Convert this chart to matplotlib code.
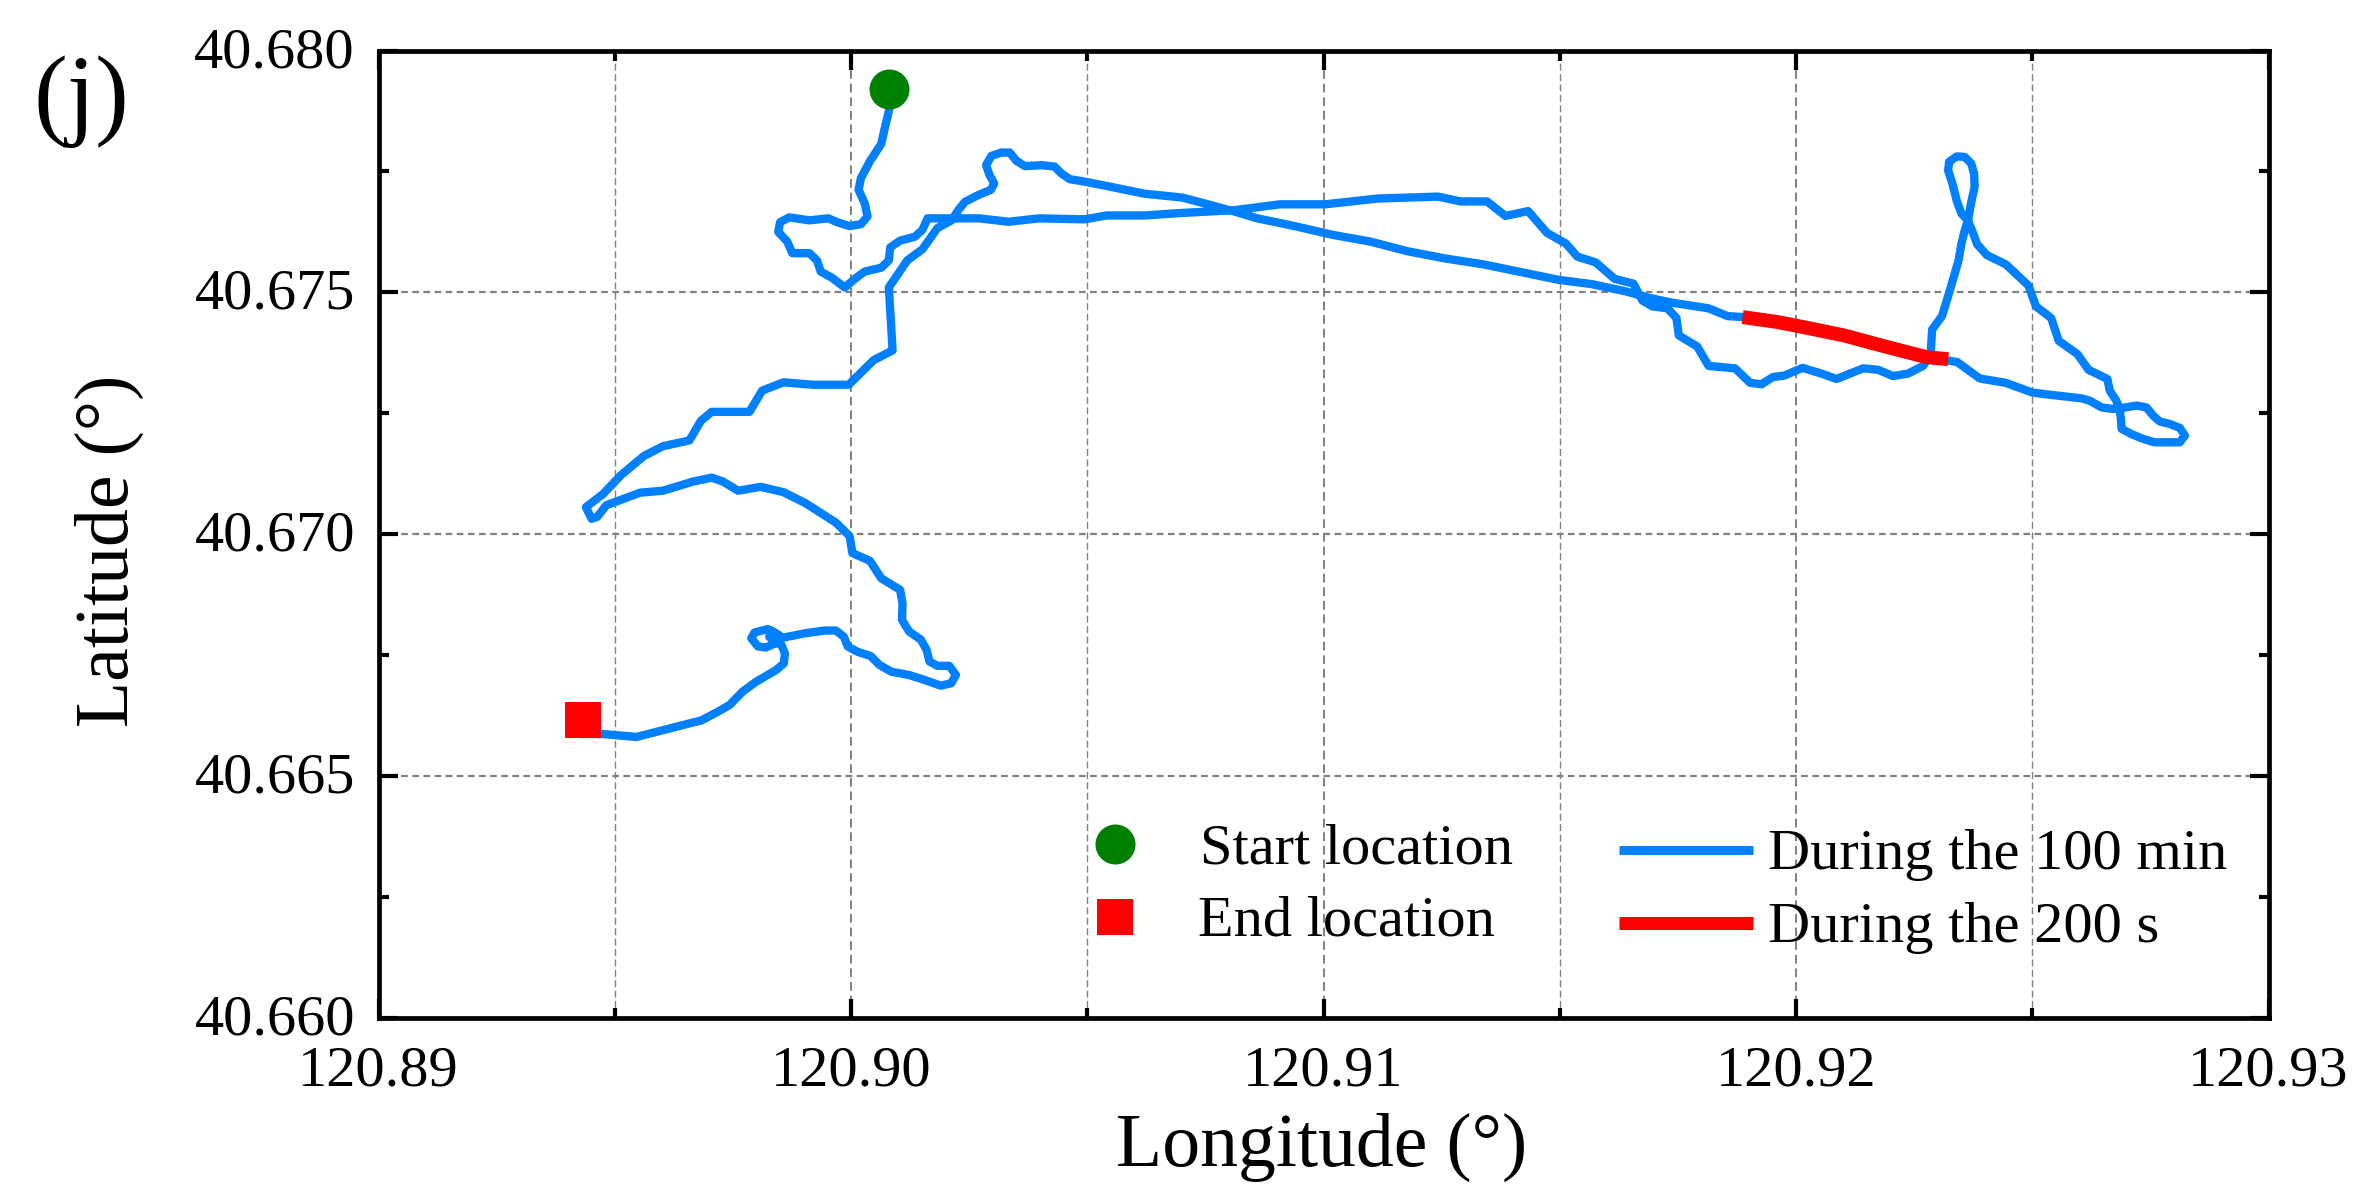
import matplotlib
matplotlib.use('Agg')
import matplotlib.pyplot as plt
from matplotlib.lines import Line2D
from matplotlib.ticker import MultipleLocator, FormatStrFormatter
from matplotlib.transforms import ScaledTranslation

plt.rcParams['font.family'] = ['Liberation Serif', 'DejaVu Serif']

# track during the 100 min
track_lon = [120.90081, 120.90081, 120.90072, 120.90064, 120.90040, 120.90021, 120.90016, 120.90029, 120.90035, 120.90021,
             120.89997, 120.89971, 120.89952, 120.89912, 120.89869, 120.89850, 120.89846, 120.89865, 120.89876, 120.89912,
             120.89928, 120.89936, 120.89960, 120.89987, 120.90008, 120.90029, 120.90064, 120.90080, 120.90083, 120.90104,
             120.90135, 120.90151, 120.90162, 120.90207, 120.90271, 120.90334, 120.90398, 120.90494, 120.90541, 120.90621,
             120.90697, 120.90812, 120.90908, 120.91003, 120.91115, 120.91242, 120.91290, 120.91346, 120.91385, 120.91433,
             120.91473, 120.91513, 120.91537, 120.91576, 120.91616, 120.91656, 120.91675, 120.91696, 120.91728, 120.91747,
             120.91752, 120.91791, 120.91815, 120.91871, 120.91903, 120.91927, 120.91951, 120.91975, 120.92014, 120.92054,
             120.92086, 120.92142, 120.92174, 120.92205, 120.92237, 120.92269, 120.92285, 120.92288, 120.92309, 120.92325,
             120.92344, 120.92350, 120.92357, 120.92364, 120.92371, 120.92378, 120.92377, 120.92371, 120.92357, 120.92340,
             120.92324, 120.92322, 120.92331, 120.92340, 120.92350, 120.92364, 120.92378, 120.92383, 120.92404, 120.92444,
             120.92492, 120.92508, 120.92540, 120.92556, 120.92596, 120.92619, 120.92659, 120.92664, 120.92678, 120.92685,
             120.92688, 120.92689, 120.92710, 120.92735, 120.92759, 120.92788, 120.92812, 120.92823, 120.92812, 120.92791,
             120.92770, 120.92756, 120.92742, 120.92721, 120.92696, 120.92671, 120.92647, 120.92622, 120.92604, 120.92532,
             120.92500, 120.92444, 120.92389, 120.92341, 120.92317, 120.92277, 120.92213, 120.92166, 120.92102, 120.92022,
             120.91959, 120.91887, 120.91855, 120.91815, 120.91736, 120.91688, 120.91640, 120.91568, 120.91497, 120.91417,
             120.91338, 120.91258, 120.91178, 120.91099, 120.91019, 120.90939, 120.90860, 120.90812, 120.90748, 120.90701,
             120.90621, 120.90541, 120.90494, 120.90463, 120.90445, 120.90431, 120.90403, 120.90368, 120.90350, 120.90336,
             120.90318, 120.90297, 120.90286, 120.90293, 120.90303, 120.90296, 120.90269, 120.90241, 120.90227, 120.90213,
             120.90183, 120.90151, 120.90119, 120.90080, 120.90084, 120.90088, 120.90048, 120.89995, 120.89920, 120.89857,
             120.89812, 120.89785, 120.89705, 120.89682, 120.89658, 120.89602, 120.89562, 120.89514, 120.89475, 120.89439,
             120.89451, 120.89463, 120.89482, 120.89554, 120.89602, 120.89666, 120.89705, 120.89729, 120.89761, 120.89809,
             120.89857, 120.89904, 120.89968, 120.89997, 120.90003, 120.90040, 120.90064, 120.90096, 120.90104, 120.90109,
             120.90108, 120.90123, 120.90148, 120.90160, 120.90166, 120.90183, 120.90208, 120.90222, 120.90212, 120.90190,
             120.90155, 120.90123, 120.90085, 120.90060, 120.90042, 120.90014, 120.89993, 120.89985, 120.89968, 120.89944,
             120.89901, 120.89855, 120.89841, 120.89824, 120.89796, 120.89789, 120.89803, 120.89820, 120.89841, 120.89846,
             120.89831, 120.89827, 120.89838, 120.89853, 120.89860, 120.89858, 120.89841, 120.89799, 120.89771, 120.89743,
             120.89718, 120.89683, 120.89666, 120.89602, 120.89546, 120.89475, 120.89432]
track_lat = [40.67920, 40.67878, 40.67842, 40.67807, 40.67771, 40.67736, 40.67712, 40.67684, 40.67657, 40.67641,
             40.67637, 40.67645, 40.67653, 40.67649, 40.67655, 40.67645, 40.67625, 40.67605, 40.67581, 40.67581,
             40.67566, 40.67543, 40.67530, 40.67510, 40.67528, 40.67543, 40.67551, 40.67566, 40.67593, 40.67607,
             40.67615, 40.67629, 40.67653, 40.67653, 40.67653, 40.67646, 40.67653, 40.67651, 40.67659, 40.67659,
             40.67664, 40.67670, 40.67682, 40.67682, 40.67694, 40.67698, 40.67688, 40.67688, 40.67658, 40.67668,
             40.67623, 40.67601, 40.67574, 40.67562, 40.67528, 40.67518, 40.67483, 40.67471, 40.67467, 40.67447,
             40.67411, 40.67388, 40.67348, 40.67343, 40.67313, 40.67310, 40.67325, 40.67328, 40.67344, 40.67332,
             40.67321, 40.67343, 40.67340, 40.67327, 40.67332, 40.67348, 40.67372, 40.67423, 40.67451, 40.67502,
             40.67566, 40.67600, 40.67628, 40.67649, 40.67687, 40.67718, 40.67745, 40.67766, 40.67780, 40.67781,
             40.67770, 40.67752, 40.67725, 40.67690, 40.67663, 40.67649, 40.67614, 40.67600, 40.67577, 40.67558,
             40.67514, 40.67471, 40.67447, 40.67400, 40.67372, 40.67340, 40.67321, 40.67297, 40.67276, 40.67259,
             40.67235, 40.67218, 40.67207, 40.67197, 40.67190, 40.67190, 40.67190, 40.67204, 40.67220, 40.67228,
             40.67233, 40.67245, 40.67262, 40.67266, 40.67262, 40.67259, 40.67262, 40.67276, 40.67281, 40.67289,
             40.67293, 40.67313, 40.67322, 40.67356, 40.67360, 40.67364, 40.67382, 40.67394, 40.67411, 40.67427,
             40.67439, 40.67449, 40.67451, 40.67467, 40.67479, 40.67489, 40.67502, 40.67517, 40.67526, 40.67542,
             40.67558, 40.67570, 40.67585, 40.67605, 40.67619, 40.67637, 40.67653, 40.67667, 40.67684, 40.67696,
             40.67704, 40.67720, 40.67729, 40.67734, 40.67746, 40.67760, 40.67763, 40.67761, 40.67772, 40.67789,
             40.67789, 40.67782, 40.67763, 40.67743, 40.67725, 40.67712, 40.67701, 40.67687, 40.67670, 40.67649,
             40.67633, 40.67589, 40.67566, 40.67510, 40.67447, 40.67380, 40.67360, 40.67309, 40.67309, 40.67314,
             40.67297, 40.67253, 40.67253, 40.67234, 40.67194, 40.67182, 40.67162, 40.67123, 40.67083, 40.67056,
             40.67032, 40.67036, 40.67060, 40.67086, 40.67090, 40.67109, 40.67117, 40.67109, 40.67090, 40.67098,
             40.67087, 40.67064, 40.67024, 40.66996, 40.66961, 40.66945, 40.66909, 40.66890, 40.66885, 40.66857,
             40.66823, 40.66799, 40.66782, 40.66761, 40.66737, 40.66728, 40.66728, 40.66709, 40.66692, 40.66687,
             40.66699, 40.66709, 40.66716, 40.66730, 40.66748, 40.66757, 40.66768, 40.66788, 40.66801, 40.66801,
             40.66795, 40.66786, 40.66795, 40.66804, 40.66797, 40.66785, 40.66768, 40.66766, 40.66775, 40.66792,
             40.66801, 40.66788, 40.66778, 40.66771, 40.66754, 40.66733, 40.66719, 40.66695, 40.66675, 40.66647,
             40.66633, 40.66615, 40.66611, 40.66595, 40.66581, 40.66587, 40.66587]

# part of the track during the 200 s
red_lon = [120.91887, 120.91959, 120.92022, 120.92102, 120.92166, 120.92213, 120.92277, 120.92322]
red_lat = [40.67449, 40.67439, 40.67427, 40.67411, 40.67394, 40.67382, 40.67366, 40.67362]

start_lon, start_lat = [120.90081], [40.67920]
end_lon, end_lat = [120.89432], [40.66616]

marker_labels = ['Start location', 'End location']
line_labels = ['During the 100 min', 'During the 200 s']

BLUE = '#0080FF'
RED = '#FF0000'
GREEN = '#008000'
W, H = 2361, 1200


def px(x, y):
    return x / W, 1 - y / H


fig = plt.figure(figsize=(23.61, 12), dpi=100)
ax = fig.add_axes([378.5 / W, 1 - 1018 / H, 1890 / W, 967.5 / H])

ax.plot(track_lon, track_lat, color=BLUE, lw=6, solid_joinstyle='round', zorder=3)
ax.plot(red_lon, red_lat, color=RED, lw=10, solid_capstyle='butt', zorder=4)
ax.plot(start_lon, start_lat, 'o', color=GREEN, ms=28.8, mew=0, zorder=5)
ax.plot(end_lon, end_lat, 's', color=RED, ms=26.3, mew=0, zorder=5)

ax.set_xlim(120.89, 120.93)
ax.set_ylim(40.66, 40.68)
ax.xaxis.set_major_locator(MultipleLocator(0.01))
ax.xaxis.set_minor_locator(MultipleLocator(0.005))
ax.yaxis.set_major_locator(MultipleLocator(0.005))
ax.yaxis.set_minor_locator(MultipleLocator(0.0025))
ax.xaxis.set_major_formatter(FormatStrFormatter('%.2f'))
ax.yaxis.set_major_formatter(FormatStrFormatter('%.3f'))

ax.tick_params(which='major', direction='in', length=13.7, width=3, top=True, right=True, labelsize=42)
ax.tick_params(which='minor', direction='in', length=7.5, width=3, top=True, right=True)
ax.tick_params(axis='x', which='major', pad=20)
ax.tick_params(axis='y', which='major', pad=17)
for s in ax.spines.values():
    s.set_linewidth(3.4)

# y tick labels sit slightly above their ticks
for lab in ax.get_yticklabels():
    lab.set_transform(lab.get_transform() + ScaledTranslation(0, 2.5 / 72, fig.dpi_scale_trans))

ax.set_axisbelow(True)
ax.grid(axis='x', which='major', color='#808080', ls=(0, (4.5, 2.5)), lw=1.4)
ax.grid(axis='x', which='minor', color='#808080', ls=(0, (5, 2.5)), lw=1.0)
ax.grid(axis='y', which='major', color='#808080', ls=(0, (3, 2)), lw=1.6)

# axis titles and panel letter, placed by pixel
fig.text(*px(1322, 1166), 'Longitude (°)', fontsize=54.5, ha='center', va='baseline')
fig.text(*px(128, 551), 'Latitude (°)', fontsize=54.5, rotation=90, ha='center', va='baseline', rotation_mode='anchor')
fig.text(*px(81, 126), '(j)', fontsize=73, ha='center', va='baseline')

# hand placed legend, two columns
for (x, y), lab in zip([(1200, 863), (1198, 936)], marker_labels):
    fig.text(*px(x, y), lab, fontsize=42, ha='left', va='baseline')
for (x, y), lab in zip([(1768, 869), (1768, 942)], line_labels):
    fig.text(*px(x, y), lab, fontsize=42, ha='left', va='baseline')

fig.add_artist(Line2D(*zip(px(1115, 844)), marker='o', color=GREEN, ms=28.8, mew=0, transform=fig.transFigure))
fig.add_artist(Line2D(*zip(px(1115, 917)), marker='s', color=RED, ms=26.3, mew=0, transform=fig.transFigure))
fig.add_artist(Line2D(*zip(px(1619, 850), px(1753, 850)), color=BLUE, lw=6.4, solid_capstyle='butt',
                      transform=fig.transFigure))
fig.add_artist(Line2D(*zip(px(1619, 923), px(1753, 923)), color=RED, lw=9.4, solid_capstyle='butt',
                      transform=fig.transFigure))

fig.savefig('out.png', dpi=100)
